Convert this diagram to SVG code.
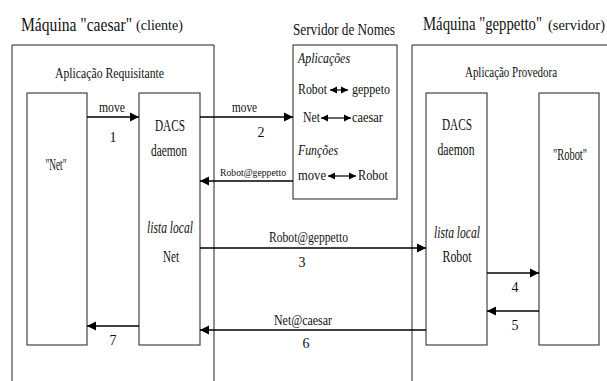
<svg xmlns="http://www.w3.org/2000/svg" width="607" height="381" viewBox="0 0 607 381">
<defs>
<marker id="ah" viewBox="0 0 10 10" refX="10" refY="5" markerWidth="9" markerHeight="11" markerUnits="userSpaceOnUse" orient="auto-start-reverse">
<path d="M0,0 L10,5 L0,10 Z" fill="#000"/>
</marker>
<marker id="sh" viewBox="0 0 10 10" refX="10" refY="5" markerWidth="7" markerHeight="9" markerUnits="userSpaceOnUse" orient="auto-start-reverse">
<path d="M0,0 L10,5 L0,10 Z" fill="#000"/>
</marker>
</defs>
<style>
text{font-family:"Liberation Serif","Times New Roman",serif;}
.t{font-size:18px;}
.s{font-size:15px;}
.b{font-size:16px;}
.m{font-size:14px;}
.xs{font-size:11px;}
.i{font-style:italic;}
.c{text-anchor:middle;}
.frame{fill:none;stroke:#222;stroke-width:1;}
.box{fill:#fff;stroke:#444;stroke-width:1.2;}
.conn{fill:none;stroke:#000;stroke-width:1.3;marker-end:url(#ah);}
.dbl{fill:none;stroke:#000;stroke-width:1.2;marker-start:url(#sh);marker-end:url(#sh);}
</style>
<rect width="607" height="381" fill="#fff"/>
<g fill="#111">

<g id="maquina-caesar">
<path class="frame" d="M12,381 V45 H214 V381"/>
<text class="t" transform="translate(21,31) scale(0.8,1)" textLength="138.75" lengthAdjust="spacingAndGlyphs">Máquina "caesar"</text>
<text class="s" transform="translate(136,30) scale(0.88,1)" textLength="53.4" lengthAdjust="spacingAndGlyphs">(cliente)</text>
<text class="s" x="55" y="78" textLength="109" lengthAdjust="spacingAndGlyphs">Aplicação Requisitante</text>
</g>

<g id="maquina-geppetto">
<path class="frame" d="M412,381 V45 H607"/>
<text class="t" transform="translate(423,30) scale(0.8,1)" textLength="148.75" lengthAdjust="spacingAndGlyphs">Máquina "geppetto"</text>
<text class="s" transform="translate(548,30) scale(0.9,1)" textLength="63.3" lengthAdjust="spacingAndGlyphs">(servidor)</text>
<text class="s" x="465" y="77" textLength="92" lengthAdjust="spacingAndGlyphs">Aplicação Provedora</text>
</g>

<g id="net">
<rect class="box" x="27" y="93" width="60" height="252"/>
<text class="b c" x="56" y="170" textLength="21" lengthAdjust="spacingAndGlyphs">"Net"</text>
</g>

<g id="dacs-caesar">
<rect class="box" x="139" y="93" width="61" height="252"/>
<text class="b c" x="170" y="131" textLength="30" lengthAdjust="spacingAndGlyphs">DACS</text>
<text class="b c" x="169" y="156" textLength="36" lengthAdjust="spacingAndGlyphs">daemon</text>
<text class="b c i" x="170" y="233" textLength="46" lengthAdjust="spacingAndGlyphs">lista local</text>
<text class="b c" x="171" y="262" textLength="16" lengthAdjust="spacingAndGlyphs">Net</text>
</g>

<g id="servidor-de-nomes">
<rect class="frame" x="293" y="45" width="104" height="154"/>
<text x="293" y="35" textLength="102" lengthAdjust="spacingAndGlyphs" style="font-size:17px">Servidor de Nomes</text>
<text class="s i" x="298" y="63" textLength="52" lengthAdjust="spacingAndGlyphs">Aplicações</text>
<text class="s" x="298" y="94" textLength="29" lengthAdjust="spacingAndGlyphs">Robot</text>
<path class="dbl" d="M330,90 H348"/>
<text class="s" x="352" y="94" textLength="38" lengthAdjust="spacingAndGlyphs">geppeto</text>
<text class="s" x="303" y="122" textLength="17" lengthAdjust="spacingAndGlyphs">Net</text>
<path class="dbl" d="M321,118 H351"/>
<text class="s" x="352" y="122" textLength="31" lengthAdjust="spacingAndGlyphs">caesar</text>
<text class="s i" x="298" y="155" textLength="40" lengthAdjust="spacingAndGlyphs">Funções</text>
<text class="s" x="298" y="180" textLength="28" lengthAdjust="spacingAndGlyphs">move</text>
<path class="dbl" d="M328,176 H356"/>
<text class="s" x="358" y="180" textLength="30" lengthAdjust="spacingAndGlyphs">Robot</text>
</g>

<g id="dacs-geppetto">
<rect class="box" x="426" y="93" width="61" height="252"/>
<text class="b c" x="457" y="130" textLength="30" lengthAdjust="spacingAndGlyphs">DACS</text>
<text class="b c" x="456" y="155" textLength="37" lengthAdjust="spacingAndGlyphs">daemon</text>
<text class="b c i" x="457" y="238" textLength="46" lengthAdjust="spacingAndGlyphs">lista local</text>
<text class="b c" x="457" y="262" textLength="29" lengthAdjust="spacingAndGlyphs">Robot</text>
</g>

<g id="robot">
<rect class="box" x="539" y="93" width="60" height="252"/>
<text class="b c" x="570" y="160" textLength="34" lengthAdjust="spacingAndGlyphs">"Robot"</text>
</g>

<g id="connectors">
<path class="conn" d="M87,117 H139"/>
<text class="m" x="99" y="112" textLength="26" lengthAdjust="spacingAndGlyphs">move</text>
<text class="m c" x="113" y="142">1</text>

<path class="conn" d="M200,117 H293"/>
<text class="m" x="232" y="112" textLength="25" lengthAdjust="spacingAndGlyphs">move</text>
<text class="m c" x="261" y="137">2</text>

<path class="conn" d="M293,181 H200"/>
<text class="xs" x="220" y="176" textLength="66" lengthAdjust="spacingAndGlyphs">Robot@geppetto</text>

<path class="conn" d="M200,248 H426"/>
<text class="m" x="269" y="242" textLength="79" lengthAdjust="spacingAndGlyphs">Robot@geppetto</text>
<text class="m c" x="302" y="267">3</text>

<path class="conn" d="M487,273 H539"/>
<text class="m c" x="515" y="292">4</text>

<path class="conn" d="M539,311 H487"/>
<text class="m c" x="515" y="330">5</text>

<path class="conn" d="M426,330 H200"/>
<text class="m" x="274" y="325" textLength="58" lengthAdjust="spacingAndGlyphs">Net@caesar</text>
<text class="m c" x="306" y="348">6</text>

<path class="conn" d="M139,326 H87"/>
<text class="m c" x="113" y="345">7</text>
</g>
</g>
</svg>
